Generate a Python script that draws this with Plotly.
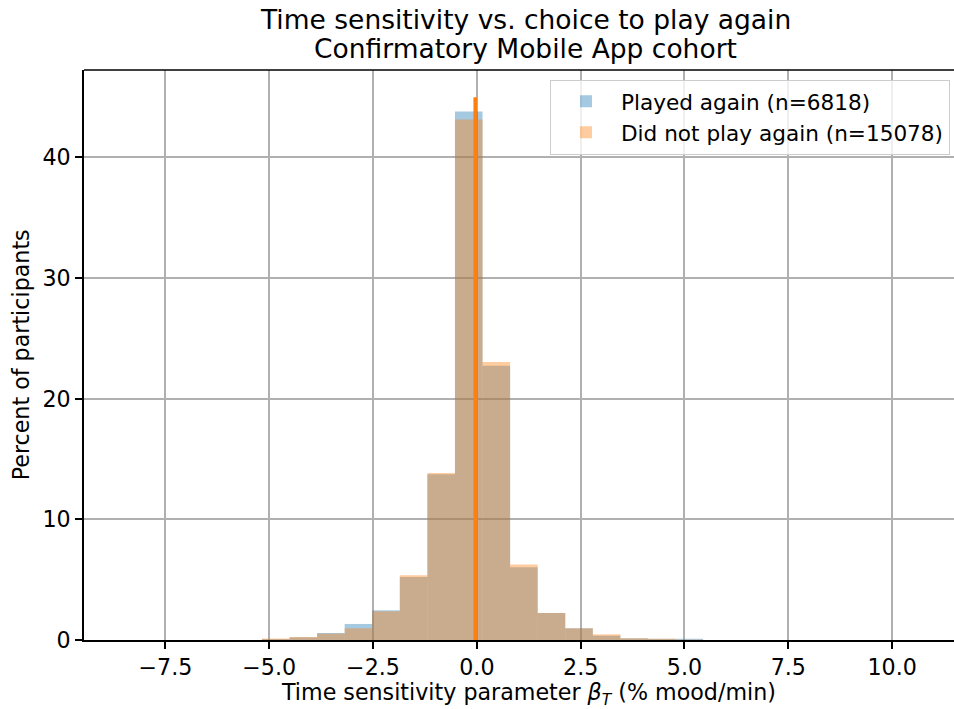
import numpy as np
import plotly.graph_objects as go

# ---- data ----
bin_start = -8.495
bin_width = 0.664
played_again = [0, 0, 0, 0, 0, 0.08, 0.22, 0.58, 1.33, 2.46, 5.23, 13.75, 43.80, 22.74,
                6.03, 2.24, 0.97, 0.36, 0.14, 0.10, 0.10, 0, 0, 0, 0, 0, 0, 0, 0]
not_played_again = [0, 0, 0, 0, 0, 0.12, 0.25, 0.53, 0.97, 2.38, 5.37, 13.85, 43.15, 23.05,
                    6.26, 2.24, 0.97, 0.47, 0.14, 0.10, 0.03, 0, 0, 0, 0, 0, 0, 0, 0]
median_x = [-0.04, -0.04]
median_y = [0, 45.0]
series_names = ["Played again (n=6818)", "Did not play again (n=15078)"]
x_tickvals = [-7.5, -5.0, -2.5, 0.0, 2.5, 5.0, 7.5, 10.0]
x_ticktext = ["\u22127.5", "\u22125.0", "\u22122.5", "0.0", "2.5", "5.0", "7.5", "10.0"]
y_tickvals = [0, 10, 20, 30, 40]

centers = bin_start + bin_width * (np.arange(len(played_again)) + 0.5)

FONT = "DejaVu Sans"
FS = 22.2
LFS = 21.6
TFS = 26.5

fig = go.Figure()
fig.add_trace(go.Bar(x=centers, y=played_again, width=bin_width, name=series_names[0],
                     marker=dict(color="rgba(31,119,180,0.4)", line=dict(width=0))))
fig.add_trace(go.Bar(x=centers, y=not_played_again, width=bin_width, name=series_names[1],
                     marker=dict(color="rgba(255,127,14,0.4)", line=dict(width=0))))
fig.add_trace(go.Scatter(x=median_x, y=median_y, mode="lines", showlegend=False,
                         line=dict(color="#ff7f0e", width=3.5), hoverinfo="skip"))

axis_common = dict(showgrid=True, gridcolor="#b0b0b0", gridwidth=1.67, zeroline=False,
                   showline=True, linecolor="black", linewidth=1.67, mirror=False,
                   ticks="outside", ticklen=7, tickwidth=1.67, tickcolor="black",
                   tickfont=dict(family=FONT, size=FS, color="black"))

fig.update_layout(
    width=954, height=709,
    margin=dict(l=84, r=0, t=70, b=69, pad=0, autoexpand=False),
    paper_bgcolor="white", plot_bgcolor="white",
    barmode="overlay",
    font=dict(family=FONT, size=FS, color="black"),
    xaxis=dict(range=[-9.46, 11.49], tickvals=x_tickvals, ticktext=x_ticktext, **axis_common),
    yaxis=dict(range=[0, 47.25], tickvals=y_tickvals, **axis_common),
    legend=dict(x=0.5356, xanchor="left", y=0.983, yanchor="top", itemwidth=60,
                bgcolor="rgba(255,255,255,0.8)", bordercolor="#cccccc", borderwidth=1,
                font=dict(family=FONT, size=LFS, color="black")),
    showlegend=True,
)

# top spine
fig.add_shape(type="line", xref="paper", yref="paper", x0=0, x1=1, y0=1, y1=1,
              line=dict(color="black", width=1.67))

annotations = [
    dict(text="Time sensitivity vs. choice to play again", x=0.508, y=1.0883),
    dict(text="Confirmatory Mobile App cohort", x=0.508, y=1.0374),
]
for a in annotations:
    fig.add_annotation(text=a["text"], xref="paper", yref="paper", x=a["x"], y=a["y"],
                       xanchor="center", yanchor="middle", showarrow=False,
                       font=dict(family=FONT, size=TFS, color="black"))

fig.add_annotation(text="Time sensitivity parameter <i>β</i><sub><i>T</i></sub> (% mood/min)",
                   xref="paper", yref="paper", x=0.511, y=-0.095, xanchor="center",
                   yanchor="middle", showarrow=False, font=dict(family=FONT, size=FS, color="black"))
fig.add_annotation(text="Percent of participants", xref="paper", yref="paper",
                   x=-0.072, y=0.5, xanchor="center", yanchor="middle", textangle=-90,
                   showarrow=False, font=dict(family=FONT, size=FS, color="black"))

fig.write_html("out.html", config={"displayModeBar": False},
               post_script="document.body.style.margin='0';document.body.style.overflow='hidden';")
